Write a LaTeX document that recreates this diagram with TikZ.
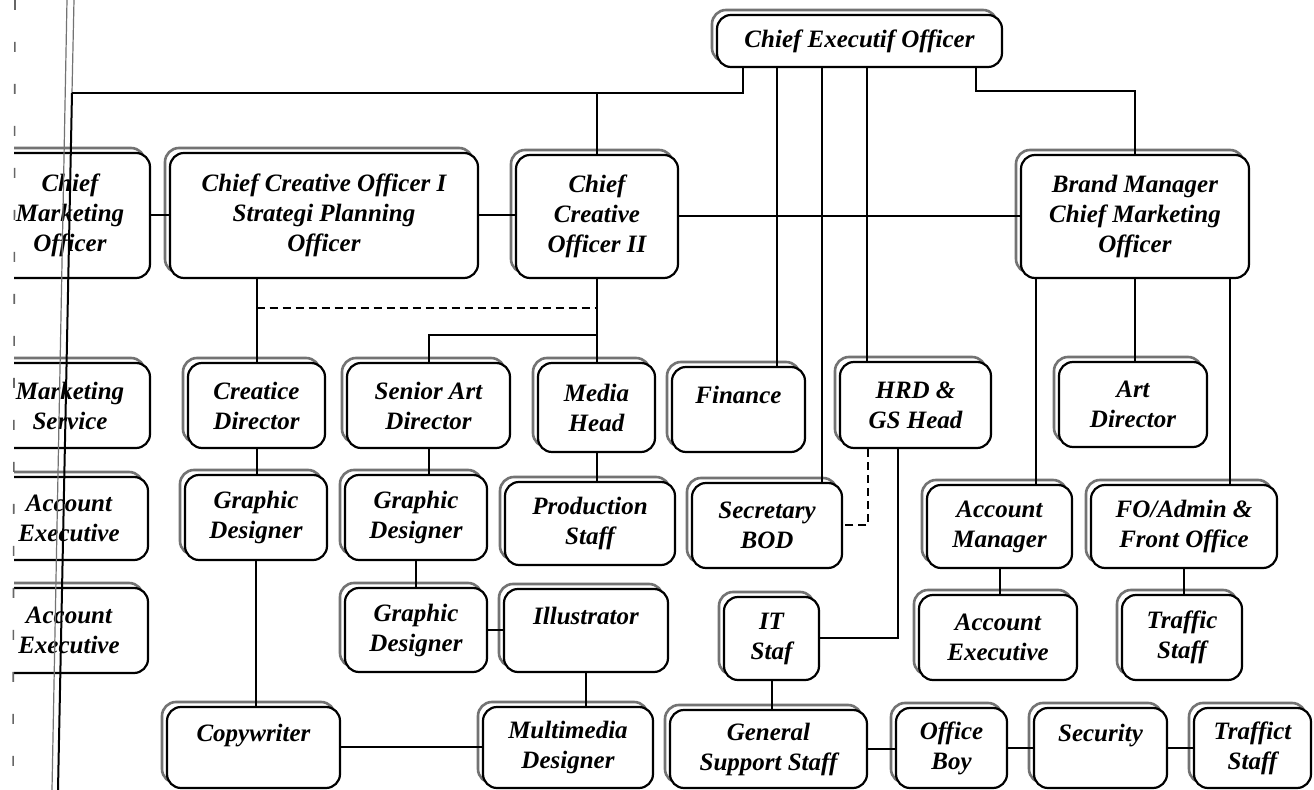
\documentclass[tikz,border=0pt]{standalone}
\usepackage{fontspec}
\setmainfont{Liberation Serif}
\usetikzlibrary{calc}
\tikzset{
  orgst/.style={draw=black, line width=1.1pt, fill=white, rounded corners=7pt, inner sep=0pt, align=center, font=\bfseries\itshape\fontsize{12.5}{15}\selectfont},
  shadowst/.style={draw=black!55, line width=1.3pt, rounded corners=7pt},
  conn/.style={draw=black, line width=1pt},
  dconn/.style={draw=black, line width=1pt, dash pattern=on 4pt off 2.5pt},
  scanline/.style={draw=black!55, line width=0.6pt},
  scandash/.style={draw=black!60, line width=0.8pt, dash pattern=on 5pt off 16pt},
}
\newcommand\orgbox[6]{%
  \draw[shadowst] (#2-5,#3-5) rectangle (#4-5,#5-5);
  \pgfmathsetmacro\bw{(#4-#2)*0.5}%
  \pgfmathsetmacro\bh{(#5-#3)*0.5}%
  \node[orgst, minimum width=\bw pt, minimum height=\bh pt] (#1) at ({(#2+#4)/2},{(#3+#5)/2}) {#6};
}
\begin{document}
\begin{tikzpicture}[x=0.5pt,y=-0.5pt]
\useasboundingbox (0,0) rectangle (1314,790);
\clip (0,0) rectangle (1314,790);
\fill[white] (0,0) rectangle (1314,790);

% left column (cut by the page edge)
\begin{scope}
\clip (14,0) rectangle (1314,790);
\orgbox{cmo}{-10}{153}{150}{278}{Chief\\Marketing\\Officer}
\orgbox{ms}{-10}{363}{150}{448}{Marketing\\Service}
\orgbox{aeA}{-10}{477}{148}{560}{Account\\Executive}
\orgbox{aeB}{-10}{588}{148}{673}{Account\\Executive}
\end{scope}

\orgbox{ceo}{717}{15}{1002}{67}{Chief Executif Officer}
\orgbox{ccoA}{170}{153}{478}{278}{Chief Creative Officer I\\Strategi Planning\\Officer}
\orgbox{ccoB}{516}{155}{678}{278}{Chief\\Creative\\Officer II}
\orgbox{bm}{1021}{155}{1249}{278}{Brand Manager\\Chief Marketing\\Officer}

\orgbox{cd}{188}{363}{325}{448}{Creatice\\Director}
\orgbox{sad}{347}{363}{510}{448}{Senior Art\\Director}
\orgbox{mh}{538}{363}{655}{452}{Media\\Head}
\orgbox{fin}{672}{367}{805}{452}{Finance\\\mbox{}}
\orgbox{hrd}{840}{362}{991}{448}{HRD \&\\GS Head}
\orgbox{artd}{1059}{362}{1207}{447}{Art\\Director}

\orgbox{gdA}{185}{475}{327}{560}{Graphic\\Designer}
\orgbox{gdB}{345}{475}{487}{560}{Graphic\\Designer}
\orgbox{ps}{505}{482}{675}{565}{Production\\Staff}
\orgbox{sec}{692}{483}{842}{568}{Secretary\\BOD}
\orgbox{am}{927}{485}{1072}{568}{Account\\Manager}
\orgbox{fo}{1091}{485}{1277}{568}{FO/Admin \&\\Front Office}

\orgbox{gdC}{345}{588}{487}{672}{Graphic\\Designer}
\orgbox{ill}{504}{589}{668}{672}{Illustrator\\\mbox{}}
\orgbox{it}{724}{597}{819}{680}{IT\\Staf}
\orgbox{aeC}{919}{595}{1077}{680}{Account\\Executive}
\orgbox{ts}{1122}{595}{1242}{680}{Traffic\\Staff}

\orgbox{cw}{167}{707}{340}{788}{Copywriter\\\mbox{}}
\orgbox{mm}{483}{707}{653}{788}{Multimedia\\Designer}
\orgbox{gss}{670}{710}{867}{788}{General\\Support Staff}
\orgbox{ob}{896}{708}{1007}{788}{Office\\Boy}
\orgbox{sc}{1034}{708}{1167}{788}{Security\\\mbox{}}
\orgbox{tfs}{1194}{708}{1311}{788}{Traffict\\Staff}

% scan marks and the left spine
\coordinate (spinetop) at (72,93);
\coordinate (spinebot) at (58,790);
\coordinate (spineup) at (74,0);
\coordinate (edgeA) at (67,0);
\coordinate (edgeB) at (52,790);
\coordinate (dashA) at (15,0);
\coordinate (dashB) at (13,790);
\draw[scandash] (dashA) -- (dashB);
\draw[scanline] (edgeA) -- (edgeB);
\draw[scanline] (spineup) -- (spinetop);
\draw[conn] (spinetop) -- (spinebot);

% connectors
\draw[conn] (ceo.south -| 743,0) |- (spinetop);
\draw[conn] (ccoB.north) -- (ccoB.north |- spinetop);
\draw[conn] (ceo.south -| 777,0) -- (fin.north -| 777,0);
\draw[conn] (ceo.south -| 822,0) -- (sec.north -| 822,0);
\draw[conn] (ceo.south -| 867,0) -- (hrd.north -| 867,0);
\draw[conn] (ceo.south -| 976,0) -- ++(0,23) -| (bm.north);

\draw[conn] (cmo.east) -- (cmo.east -| ccoA.west);
\draw[conn] (ccoA.east) -- (ccoA.east -| ccoB.west);
\draw[conn] (ccoB.east) -- (ccoB.east -| bm.west);

\draw[conn] (ccoA.south -| cd.north) -- (cd.north);
\draw[dconn] (cd.north |- 0,308) -- (ccoB.south |- 0,308);
\draw[conn] (ccoB.south) -- (ccoB.south |- mh.north);
\draw[conn] (sad.north) |- (ccoB.south |- 0,335);

\draw[conn] (cd.south) -- (cd.south |- gdA.north);
\draw[conn] (gdA.south) -- (gdA.south |- cw.north);
\draw[conn] (sad.south) -- (sad.south |- gdB.north);
\draw[conn] (gdB.south) -- (gdC.north);
\draw[conn] (gdC.east) -- (gdC.east -| ill.west);
\draw[conn] (ill.south) -- (ill.south |- mm.north);
\draw[conn] (mh.south) -- (mh.south |- ps.north);
\draw[conn] (cw.east) -- (cw.east -| mm.west);

\draw[conn] (hrd.south -| 898,0) |- (it.east);
\draw[dconn] (hrd.south -| 868,0) |- (sec.east);
\draw[conn] (it.south) -- (it.south |- gss.north);
\draw[conn] (gss.east) -- (gss.east -| ob.west);
\draw[conn] (ob.east) -- (ob.east -| sc.west);
\draw[conn] (sc.east) -- (sc.east -| tfs.west);

\draw[conn] (bm.south -| 1036,0) -- (am.north -| 1036,0);
\draw[conn] (bm.south) -- (bm.south |- artd.north);
\draw[conn] (bm.south -| 1230,0) -- (fo.north -| 1230,0);
\draw[conn] (am.south) -- (am.south |- aeC.north);
\draw[conn] (fo.south) -- (fo.south |- ts.north);
\end{tikzpicture}
\end{document}
